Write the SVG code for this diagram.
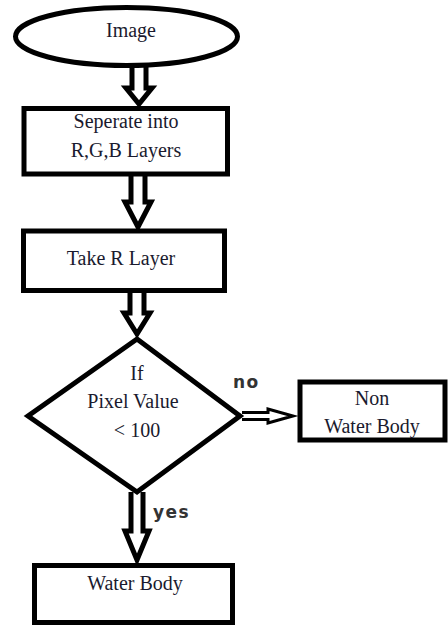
<svg xmlns="http://www.w3.org/2000/svg" width="448" height="628" viewBox="0 0 448 628">
<style>
.shape{fill:#fff;stroke:#000;stroke-width:5}
.t{font-family:"Liberation Serif","Times New Roman",serif;font-size:20px;fill:#1a1a2e;text-anchor:middle}
.arr{fill:#fff;stroke:#000;stroke-width:5;stroke-linejoin:miter}
.arr2{fill:#fff;stroke:#000;stroke-width:3;stroke-linejoin:miter}
.lbl{font-family:"DejaVu Sans",sans-serif;font-weight:bold;font-size:17px;letter-spacing:1.5px;fill:#333}
</style>
<rect width="448" height="628" fill="#fff"/>
<g id="connectors">
<path class="arr" d="M132,64 V88 H126 L139,104 L152,88 H146 V64"/>
<path class="arr" d="M131,174 V202 H125 L138,227 L151,202 H145 V174"/>
<path class="arr" d="M130,291 V313 H124 L137,334 L150,313 H144 V291"/>
<path class="arr" d="M131,492 V531 H125 L137,560 L149,531 H143 V492"/>
<path class="arr2" d="M242,412.5 H268 V409 L293,416 L268,423 V419.5 H242"/>
<text class="lbl" x="233" y="388">no</text>
<text class="lbl" x="153" y="518">yes</text>
</g>
<g id="n-image">
<ellipse class="shape" cx="126.5" cy="36.5" rx="111" ry="29"/>
<text class="t" x="131" y="37">Image</text>
</g>
<g id="n-separate">
<rect class="shape" x="24" y="108.5" width="203.5" height="65.5"/>
<text class="t" x="126" y="128">Seperate into</text>
<text class="t" x="126" y="157">R,G,B Layers</text>
</g>
<g id="n-take">
<rect class="shape" x="23.5" y="231" width="201" height="59.5"/>
<text class="t" x="121" y="265">Take R Layer</text>
</g>
<g id="n-decision">
<polygon class="shape" points="137,339 240,416 137,492 28,416"/>
<text class="t" x="137" y="380">If</text>
<text class="t" x="133" y="408">Pixel Value</text>
<text class="t" x="137" y="437">&lt; 100</text>
</g>
<g id="n-nonwater">
<rect class="shape" x="300" y="382" width="145" height="58"/>
<text class="t" x="372" y="405">Non</text>
<text class="t" x="372" y="433">Water Body</text>
</g>
<g id="n-water">
<rect class="shape" x="34.5" y="565.5" width="198" height="57"/>
<text class="t" x="135" y="590">Water Body</text>
</g>
</svg>
